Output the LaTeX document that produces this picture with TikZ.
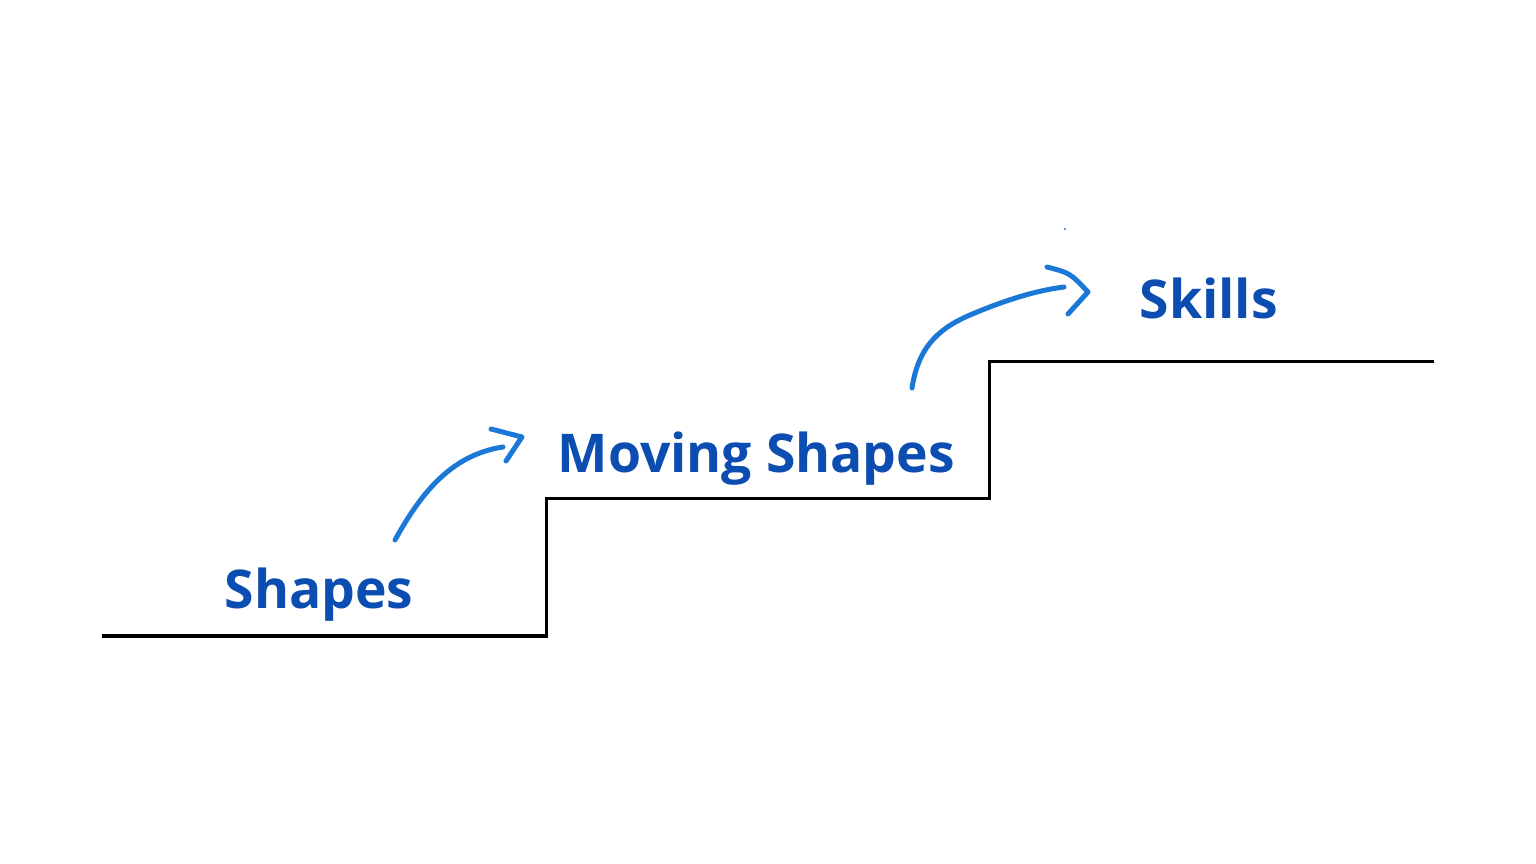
\documentclass[tikz,border=0pt]{standalone}
\usepackage{fontspec}
\setmainfont{Open Sans}
\definecolor{labelblue}{HTML}{0B4DB0}
\definecolor{penblue}{HTML}{1C78D6}
\tikzset{
    stair/.style={line width = 0.03cm, black},
    pen/.style={penblue, line width = 0.05cm, line cap = round, line join = round},
    steplabel/.style={labelblue, font = \fontsize{15.2}{18}\selectfont\bfseries, inner sep = 0pt, anchor = base west},
}
\begin{document}
\begin{tikzpicture}[x = 0.01cm, y = -0.01cm]
\useasboundingbox (0,0) rectangle (1536,864);

%the stairs
\draw[stair] (102,636)--(546,636)--(546,499)--(989,499)--(989,362)--(1434,362);

%labels on the steps
\node[steplabel] (shapes) at (224,609) {Shapes};
\node[steplabel] (moving) at (557,473) {Moving Shapes};
\node[steplabel] (skills) at (1139,319) {Skills};

%first arrow
\coordinate (a1) at (395,540);
\coordinate (a2) at (503,447);
\draw[pen] (a1) .. controls (420,495) and (450,455) .. (a2);
\draw[pen] (491,429)--(522,437)--(506,461);

%second arrow
\coordinate (b1) at (912,388);
\coordinate (b2) at (1064,287);
\draw[pen] (b1) .. controls (918,350) and (935,330) .. (970,315) .. controls (1010,298) and (1040,290) .. (b2);
\draw[pen] (1047,267) .. controls (1070,273) .. (1088,292)--(1068,314);
\fill[penblue] (1065,229) circle (1.2);
\end{tikzpicture}
\end{document}
